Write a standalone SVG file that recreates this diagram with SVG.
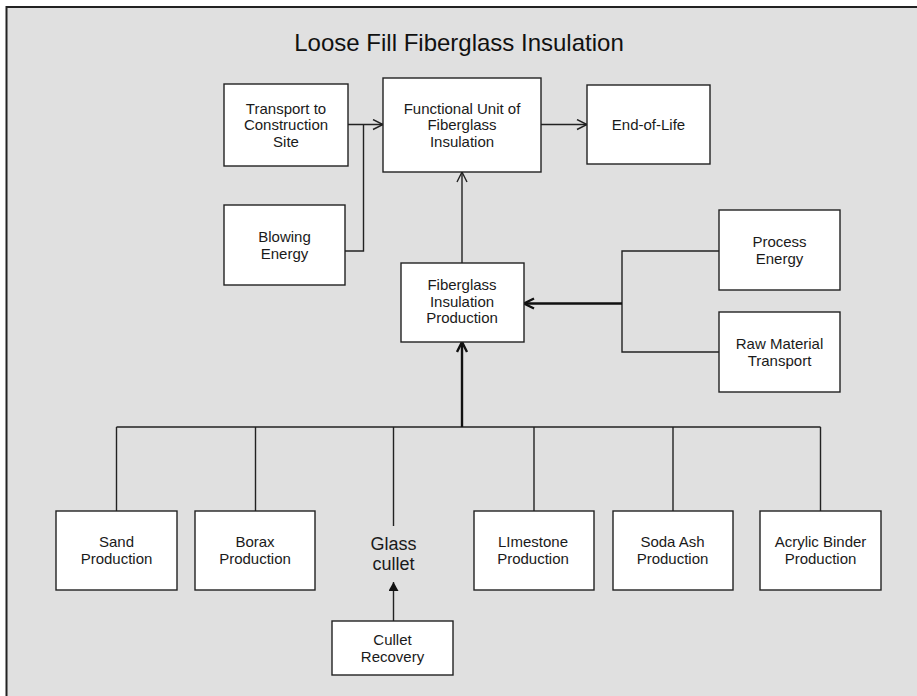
<svg xmlns="http://www.w3.org/2000/svg" width="917" height="696" viewBox="0 0 917 696">
<defs>
<style>
.box{fill:#fff;stroke:#222;stroke-width:1.4}
.t{font-family:"Liberation Sans",Arial,sans-serif;font-size:15px;fill:#1a1a1a;text-anchor:middle}
.title{font-family:"Liberation Sans",Arial,sans-serif;font-size:24px;fill:#111;text-anchor:middle}
.big{font-family:"Liberation Sans",Arial,sans-serif;font-size:18px;fill:#1a1a1a;text-anchor:middle}
.c{fill:none;stroke:#222;stroke-width:1.4}
.ct{fill:none;stroke:#111;stroke-width:2.4}
</style>
<marker id="open" markerUnits="userSpaceOnUse" markerWidth="14" markerHeight="14" refX="11" refY="6" orient="auto">
<path d="M1,1 L11,6 L1,11" fill="none" stroke="#222" stroke-width="1.4"/>
</marker>
<marker id="openb" markerUnits="userSpaceOnUse" markerWidth="14" markerHeight="14" refX="11" refY="6" orient="auto">
<path d="M1,1 L11,6 L1,11" fill="none" stroke="#111" stroke-width="2.4"/>
</marker>
<marker id="fill" markerUnits="userSpaceOnUse" markerWidth="12" markerHeight="12" refX="9" refY="5" orient="auto">
<path d="M0,0 L9,5 L0,10 Z" fill="#111"/>
</marker>
</defs>
<rect x="0" y="0" width="917" height="696" fill="#fff"/>
<rect x="6" y="7" width="911" height="689" fill="#e0e0e0"/>
<path d="M6.5,696 V7 H917" fill="none" stroke="#222" stroke-width="2"/>
<text class="title" x="459" y="51">Loose Fill Fiberglass Insulation</text>

<g id="connectors">
<line class="c" x1="348" y1="124.5" x2="383" y2="124.5" marker-end="url(#open)"/>
<polyline class="c" points="345,251 363.5,251 363.5,124.5"/>
<line class="c" x1="541" y1="124.5" x2="587" y2="124.5" marker-end="url(#open)"/>
<line class="c" x1="462" y1="263" x2="462" y2="172" marker-end="url(#open)"/>
<polyline class="c" points="719,251 622,251 622,352 719,352"/>
<line class="ct" x1="622" y1="303.5" x2="524" y2="303.5" marker-end="url(#openb)"/>
<line class="c" x1="116.5" y1="427" x2="820.5" y2="427"/>
<line class="ct" x1="462" y1="427" x2="462" y2="342" marker-end="url(#openb)"/>
<line class="c" x1="116.5" y1="427" x2="116.5" y2="511"/>
<line class="c" x1="255.5" y1="427" x2="255.5" y2="511"/>
<line class="c" x1="393.5" y1="427" x2="393.5" y2="526"/>
<line class="c" x1="534" y1="427" x2="534" y2="511"/>
<line class="c" x1="673" y1="427" x2="673" y2="511"/>
<line class="c" x1="820.5" y1="427" x2="820.5" y2="511"/>
<line class="c" x1="393.5" y1="621" x2="393.5" y2="582" marker-end="url(#fill)"/>
</g>

<g id="transport">
<rect class="box" x="224" y="84" width="124" height="82"/>
<text class="t" x="286" y="113.5">Transport to</text>
<text class="t" x="286" y="130">Construction</text>
<text class="t" x="286" y="146.5">Site</text>
</g>
<g id="functional-unit">
<rect class="box" x="383" y="78" width="158" height="94"/>
<text class="t" x="462" y="113.5">Functional Unit of</text>
<text class="t" x="462" y="130">Fiberglass</text>
<text class="t" x="462" y="146.5">Insulation</text>
</g>
<g id="end-of-life">
<rect class="box" x="587" y="85" width="123" height="79"/>
<text class="t" x="648.5" y="130">End-of-Life</text>
</g>
<g id="blowing-energy">
<rect class="box" x="224" y="205" width="121" height="80"/>
<text class="t" x="284.5" y="242">Blowing</text>
<text class="t" x="284.5" y="258.5">Energy</text>
</g>
<g id="fiberglass-production">
<rect class="box" x="401" y="263" width="123" height="79"/>
<text class="t" x="462" y="290">Fiberglass</text>
<text class="t" x="462" y="306.5">Insulation</text>
<text class="t" x="462" y="323">Production</text>
</g>
<g id="process-energy">
<rect class="box" x="719" y="210" width="121" height="80"/>
<text class="t" x="779.5" y="247">Process</text>
<text class="t" x="779.5" y="263.5">Energy</text>
</g>
<g id="raw-material-transport">
<rect class="box" x="719" y="312" width="121" height="80"/>
<text class="t" x="779.5" y="349">Raw Material</text>
<text class="t" x="779.5" y="365.5">Transport</text>
</g>
<g id="sand">
<rect class="box" x="56" y="511" width="121" height="79"/>
<text class="t" x="116.5" y="547">Sand</text>
<text class="t" x="116.5" y="564">Production</text>
</g>
<g id="borax">
<rect class="box" x="195" y="511" width="120" height="79"/>
<text class="t" x="255" y="547">Borax</text>
<text class="t" x="255" y="564">Production</text>
</g>
<g id="glass-cullet">
<text class="big" x="393.5" y="550">Glass</text>
<text class="big" x="393.5" y="569.5">cullet</text>
</g>
<g id="limestone">
<rect class="box" x="474" y="511" width="120" height="79"/>
<text class="t" x="533" y="547">LImestone</text>
<text class="t" x="533" y="564">Production</text>
</g>
<g id="soda-ash">
<rect class="box" x="613" y="511" width="120" height="79"/>
<text class="t" x="672.5" y="547">Soda Ash</text>
<text class="t" x="672.5" y="564">Production</text>
</g>
<g id="acrylic-binder">
<rect class="box" x="760" y="511" width="121" height="79"/>
<text class="t" x="820.5" y="547">Acrylic Binder</text>
<text class="t" x="820.5" y="564">Production</text>
</g>
<g id="cullet-recovery">
<rect class="box" x="332" y="621" width="121" height="54"/>
<text class="t" x="392.5" y="645">Cullet</text>
<text class="t" x="392.5" y="662">Recovery</text>
</g>
</svg>
